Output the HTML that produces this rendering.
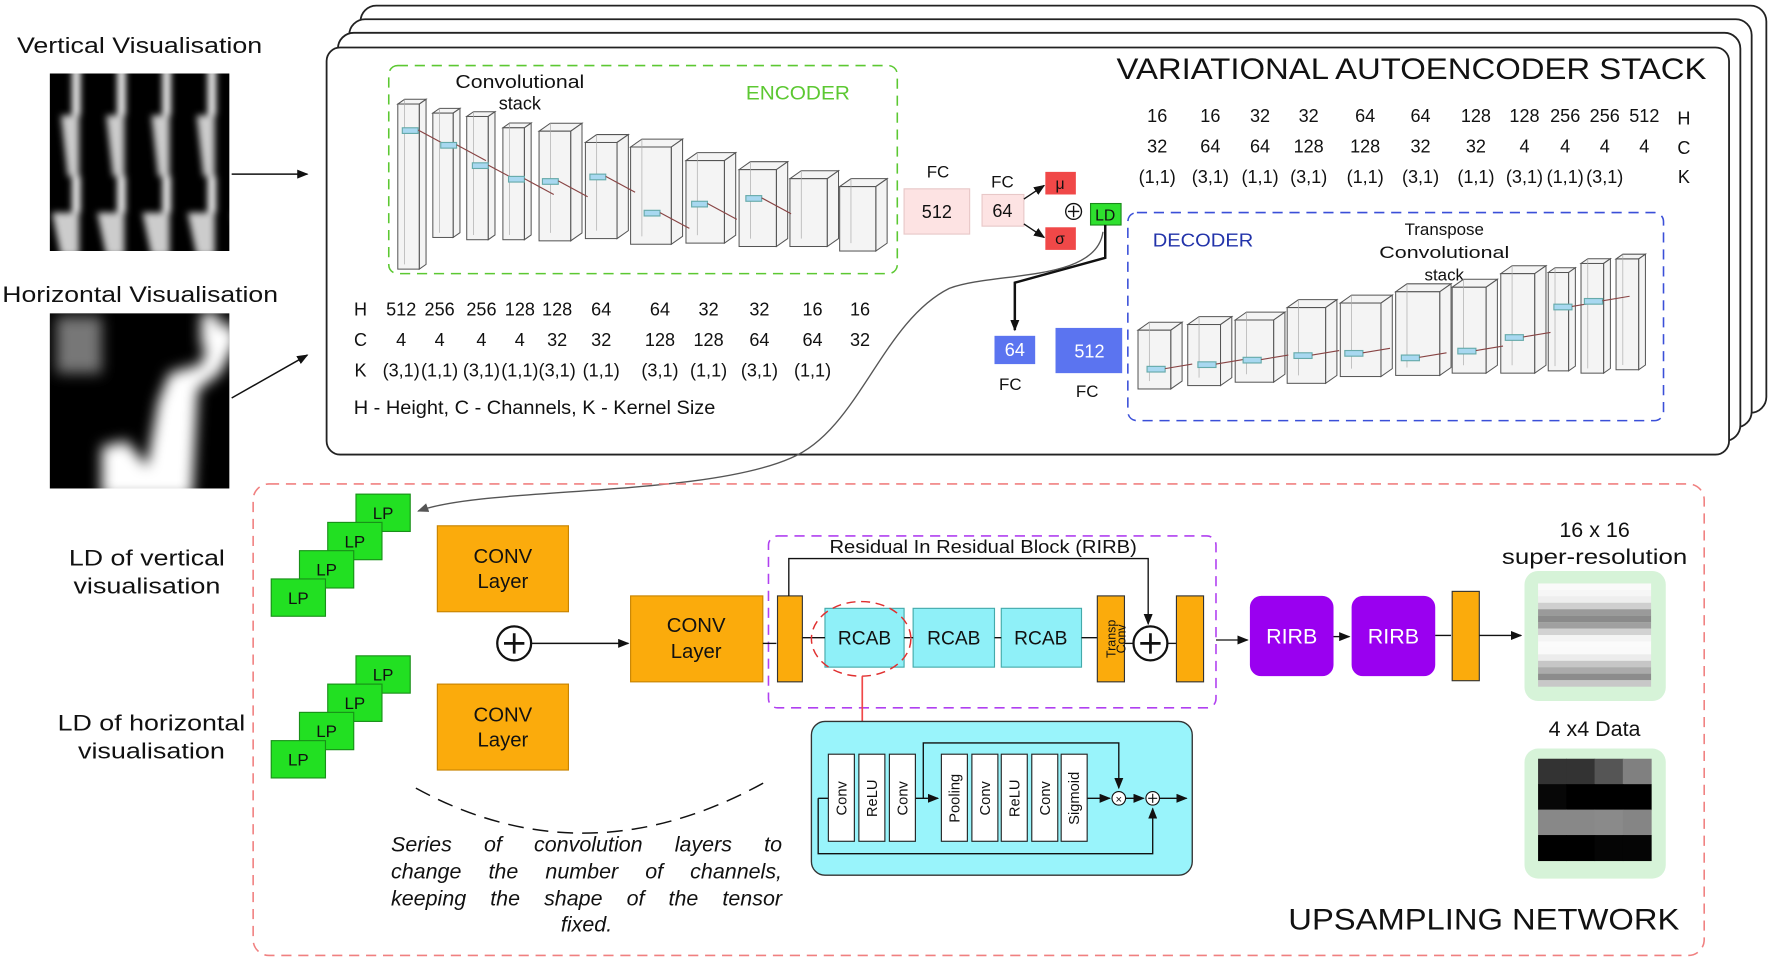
<!DOCTYPE html>
<html><head><meta charset="utf-8"><style>
html,body{margin:0;padding:0;background:#fff;width:1772px;height:960px;overflow:hidden}
svg{display:block}
text{font-family:"Liberation Sans",sans-serif;fill:#111}
</style></head><body>
<svg id="s" width="1772" height="960" viewBox="0 0 1568 849" preserveAspectRatio="none" xmlns="http://www.w3.org/2000/svg">
<defs>
<marker id="ar" markerWidth="10" markerHeight="8" refX="9" refY="4" orient="auto" markerUnits="userSpaceOnUse"><path d="M0,0 L10,4 L0,8 z" fill="#111"/></marker>
<marker id="arg" markerWidth="10" markerHeight="8" refX="9" refY="4" orient="auto" markerUnits="userSpaceOnUse"><path d="M0,0 L10,4 L0,8 z" fill="#555"/></marker>
<filter id="bl"><feGaussianBlur stdDeviation="3"/></filter>
<filter id="bl2"><feGaussianBlur stdDeviation="6"/></filter>
<clipPath id="c1"><rect x="44" y="65" width="159" height="157"/></clipPath>
<clipPath id="c2"><rect x="44" y="277" width="159" height="155"/></clipPath>
</defs>

<rect x="319" y="5" width="1244" height="360" rx="14" fill="#fff" stroke="#222" stroke-width="1.6"/>
<rect x="309" y="17" width="1241" height="361" rx="14" fill="#fff" stroke="#222" stroke-width="1.6"/>
<rect x="299" y="29" width="1241" height="361" rx="14" fill="#fff" stroke="#222" stroke-width="1.6"/>
<rect x="289" y="42" width="1241" height="360" rx="12" fill="#fff" stroke="#222" stroke-width="1.6"/>
<text x="988" y="70" font-size="26" textLength="522" lengthAdjust="spacingAndGlyphs">VARIATIONAL AUTOENCODER STACK</text>

<text x="15" y="47" font-size="20" textLength="217" lengthAdjust="spacingAndGlyphs">Vertical Visualisation</text>
<g clip-path="url(#c1)">
<rect x="44" y="65" width="159" height="157" fill="#000"/>
<g fill="#fff" filter="url(#bl)" id="vv"></g>
</g>
<text x="2" y="267" font-size="20" textLength="244" lengthAdjust="spacingAndGlyphs">Horizontal Visualisation</text>
<g clip-path="url(#c2)">
<rect x="44" y="277" width="159" height="155" fill="#000"/>
<g filter="url(#bl2)">
<rect x="50" y="280" width="40" height="50" fill="#777"/>
<polygon fill="#fff" points="90,440 90,395 112,390 130,412 140,355 150,330 178,322 188,290 203,285 210,300 195,330 175,345 170,440"/>
<rect x="178" y="277" width="15" height="30" fill="#fff"/>
</g>
</g>
<line x1="205" y1="154" x2="272" y2="154" stroke="#111" stroke-width="1.3" marker-end="url(#ar)"/>
<line x1="205" y1="352" x2="272" y2="314" stroke="#111" stroke-width="1.3" marker-end="url(#ar)"/>

<rect x="344" y="58" width="450" height="184" rx="8" fill="none" stroke="#5cc832" stroke-width="1.4" stroke-dasharray="9,6"/>
<text x="460" y="78" font-size="16" text-anchor="middle" textLength="114" lengthAdjust="spacingAndGlyphs">Convolutional</text>
<text x="460" y="97" font-size="16" text-anchor="middle">stack</text>
<text x="660" y="88" font-size="17" style="fill:#5cc832" textLength="92" lengthAdjust="spacingAndGlyphs">ENCODER</text>
<g id="enc"></g>

<g font-size="16" text-anchor="middle" id="enctab"></g>
<text x="313" y="366" font-size="17" textLength="320" lengthAdjust="spacingAndGlyphs">H - Height,  C - Channels, K - Kernel Size</text>

<text x="830" y="157" font-size="15" text-anchor="middle">FC</text>
<rect x="800" y="167" width="58" height="40" fill="#fde3e3" stroke="#e8c8c8"/>
<text x="829" y="193" font-size="16" text-anchor="middle">512</text>
<text x="887" y="166" font-size="15" text-anchor="middle">FC</text>
<rect x="869" y="172" width="37" height="28" fill="#fde3e3" stroke="#e8c8c8"/>
<text x="887" y="192" font-size="16" text-anchor="middle">64</text>
<line x1="906" y1="176" x2="924" y2="164" stroke="#111" stroke-width="1.2" marker-end="url(#ar)"/>
<line x1="906" y1="198" x2="924" y2="210" stroke="#111" stroke-width="1.2" marker-end="url(#ar)"/>
<rect x="925" y="152" width="27" height="20" fill="#f04848"/>
<text x="938" y="167" font-size="14" text-anchor="middle">μ</text>
<rect x="925" y="201" width="27" height="20" fill="#f04848"/>
<text x="938" y="216" font-size="14" text-anchor="middle">σ</text>
<circle cx="950" cy="187" r="7" fill="none" stroke="#111" stroke-width="1.2"/>
<path d="M945,187h10M950,182v10" stroke="#111" stroke-width="1.2"/>
<rect x="965" y="180" width="27" height="19" fill="#2ee02e" stroke="#1a8a1a"/>
<text x="978" y="195" font-size="14" text-anchor="middle">LD</text>
<path d="M978,199 V228 L898,250 V292" fill="none" stroke="#111" stroke-width="2.2" marker-end="url(#ar)"/>
<rect x="880" y="297" width="36" height="25" fill="#5b74f0"/>
<text x="898" y="315" font-size="16" text-anchor="middle" style="fill:#fff">64</text>
<text x="894" y="345" font-size="15" text-anchor="middle">FC</text>
<rect x="934" y="290" width="59" height="40" fill="#5b74f0"/>
<text x="964" y="316" font-size="16" text-anchor="middle" style="fill:#fff">512</text>
<text x="962" y="351" font-size="15" text-anchor="middle">FC</text>
<path d="M976,205 C 970,250 880,240 840,255 C 780,285 760,380 700,405 C 620,440 430,430 370,452" fill="none" stroke="#555" stroke-width="1.2" marker-end="url(#arg)"/>

<g font-size="16" text-anchor="middle" id="dectab"></g>
<rect x="998" y="188" width="474" height="184" rx="8" fill="none" stroke="#3a4fd8" stroke-width="1.4" stroke-dasharray="9,6"/>
<text x="1020" y="218" font-size="16" style="fill:#2233aa" textLength="89" lengthAdjust="spacingAndGlyphs">DECODER</text>
<text x="1278" y="208" font-size="15" text-anchor="middle">Transpose</text>
<text x="1278" y="228" font-size="15" text-anchor="middle" textLength="115" lengthAdjust="spacingAndGlyphs">Convolutional</text>
<text x="1278" y="248" font-size="15" text-anchor="middle">stack</text>
<g id="dec"></g>

<rect x="224" y="428" width="1284" height="417" rx="14" fill="none" stroke="#f08080" stroke-width="1.4" stroke-dasharray="9,6"/>
<text x="1486" y="822" font-size="26" text-anchor="end" textLength="346" lengthAdjust="spacingAndGlyphs">UPSAMPLING NETWORK</text>
<g id="lp" font-size="15" text-anchor="middle"></g>
<text x="130" y="500" font-size="20" text-anchor="middle" textLength="138" lengthAdjust="spacingAndGlyphs">LD of vertical</text>
<text x="130" y="525" font-size="20" text-anchor="middle" textLength="130" lengthAdjust="spacingAndGlyphs">visualisation</text>
<text x="134" y="646" font-size="20" text-anchor="middle" textLength="166" lengthAdjust="spacingAndGlyphs">LD of horizontal</text>
<text x="134" y="671" font-size="20" text-anchor="middle" textLength="130" lengthAdjust="spacingAndGlyphs">visualisation</text>

<g font-size="18" text-anchor="middle">
<rect x="387" y="465" width="116" height="76" fill="#fbab0c" stroke="#c88400"/>
<text x="445" y="498">CONV</text><text x="445" y="520">Layer</text>
<rect x="387" y="605" width="116" height="76" fill="#fbab0c" stroke="#c88400"/>
<text x="445" y="638">CONV</text><text x="445" y="660">Layer</text>
<rect x="558" y="527" width="117" height="76" fill="#fbab0c" stroke="#c88400"/>
<text x="616" y="559">CONV</text><text x="616" y="582">Layer</text>
</g>
<circle cx="455" cy="569" r="15" fill="#fff" stroke="#111" stroke-width="2"/>
<path d="M446,569h18M455,560v18" stroke="#111" stroke-width="2.4"/>
<line x1="470" y1="569" x2="556" y2="569" stroke="#111" stroke-width="1.3" marker-end="url(#ar)"/>
<path d="M368,697 Q520,780 680,690" fill="none" stroke="#111" stroke-width="1.3" stroke-dasharray="14,8"/>
<g font-size="19" font-style="italic" id="ital"></g>

<rect x="680" y="474" width="396" height="152" rx="8" fill="none" stroke="#b040f0" stroke-width="1.4" stroke-dasharray="9,6"/>
<text x="870" y="489" font-size="16" text-anchor="middle" textLength="272" lengthAdjust="spacingAndGlyphs">Residual In Residual Block (RIRB)</text>
<line x1="675" y1="569" x2="687" y2="569" stroke="#111" stroke-width="1.2"/>
<rect x="688" y="527" width="22" height="76" fill="#fbab0c" stroke="#333"/>
<path d="M698,527 V494 H1016 V552" fill="none" stroke="#111" stroke-width="1.2" marker-end="url(#ar)"/>
<g font-size="17" text-anchor="middle">
<rect x="730" y="538" width="70" height="52" fill="#8ff0f8" stroke="#4aa"/><text x="765" y="570">RCAB</text>
<rect x="808" y="538" width="72" height="52" fill="#8ff0f8" stroke="#4aa"/><text x="844" y="570">RCAB</text>
<rect x="886" y="538" width="71" height="52" fill="#8ff0f8" stroke="#4aa"/><text x="921" y="570">RCAB</text>
</g>
<path d="M710,564H730M800,564H808M880,564H886M957,564H971" stroke="#111" stroke-width="1.2"/>
<rect x="971" y="527" width="24" height="76" fill="#fbab0c" stroke="#333"/>
<text transform="translate(987,565) rotate(-90)" font-size="11" text-anchor="middle">Transp</text>
<text transform="translate(996,565) rotate(-90)" font-size="11" text-anchor="middle">Conv</text>
<circle cx="1018" cy="569" r="15" fill="#fff" stroke="#111" stroke-width="2"/>
<path d="M1009,569h18M1018,560v18" stroke="#111" stroke-width="2.4"/>
<line x1="995" y1="569" x2="1003" y2="569" stroke="#111" stroke-width="1.2"/>
<line x1="1033" y1="569" x2="1041" y2="569" stroke="#111" stroke-width="1.2"/>
<rect x="1041" y="527" width="24" height="76" fill="#fbab0c" stroke="#333"/>
<ellipse cx="762" cy="565" rx="44" ry="33" fill="none" stroke="#e03030" stroke-width="1.3" stroke-dasharray="8,5"/>
<line x1="763" y1="598" x2="763" y2="638" stroke="#f04848" stroke-width="1.5"/>

<line x1="1076" y1="566" x2="1104" y2="566" stroke="#111" stroke-width="1.2" marker-end="url(#ar)"/>
<rect x="1106" y="527" width="74" height="71" rx="10" fill="#9a00f0"/>
<text x="1143" y="569" font-size="19" text-anchor="middle" style="fill:#fff">RIRB</text>
<line x1="1180" y1="563" x2="1194" y2="563" stroke="#111" stroke-width="1.2" marker-end="url(#ar)"/>
<rect x="1196" y="527" width="74" height="71" rx="10" fill="#9a00f0"/>
<text x="1233" y="569" font-size="19" text-anchor="middle" style="fill:#fff">RIRB</text>
<line x1="1270" y1="562" x2="1284" y2="562" stroke="#111" stroke-width="1.2"/>
<rect x="1285" y="523" width="24" height="79" fill="#fbab0c" stroke="#333"/>
<line x1="1309" y1="562" x2="1346" y2="562" stroke="#111" stroke-width="1.2" marker-end="url(#ar)"/>

<text x="1411" y="475" font-size="19" text-anchor="middle">16 x 16</text>
<text x="1411" y="499" font-size="19" text-anchor="middle" textLength="164" lengthAdjust="spacingAndGlyphs">super-resolution</text>
<rect x="1349" y="505" width="125" height="115" rx="12" fill="#d6f3d8"/>
<g id="sr"></g>
<text x="1411" y="651" font-size="19" text-anchor="middle">4 x4 Data</text>
<rect x="1349" y="662" width="125" height="115" rx="12" fill="#d6f3d8"/>
<g id="d4"></g>

<rect x="718" y="638" width="337" height="136" rx="12" fill="#99f4fb" stroke="#333" stroke-width="1.2"/>
<path d="M724,706 V755 H1020 V715" fill="none" stroke="#111" stroke-width="1.2" marker-end="url(#ar)"/>
<path d="M817,706 V657 H990 V697" fill="none" stroke="#111" stroke-width="1.2" marker-end="url(#ar)"/>
<line x1="724" y1="706" x2="733" y2="706" stroke="#111" stroke-width="1.2"/>
<line x1="810" y1="706" x2="830" y2="706" stroke="#111" stroke-width="1.2" marker-end="url(#ar)"/>
<line x1="962" y1="706" x2="982" y2="706" stroke="#111" stroke-width="1.2" marker-end="url(#ar)"/>
<line x1="996" y1="706" x2="1012" y2="706" stroke="#111" stroke-width="1.2" marker-end="url(#ar)"/>
<line x1="1026" y1="706" x2="1050" y2="706" stroke="#111" stroke-width="1.2" marker-end="url(#ar)"/>
<circle cx="990" cy="706" r="6" fill="#fff" stroke="#111"/>
<text x="990" y="710" font-size="10" text-anchor="middle">×</text>
<circle cx="1020" cy="706" r="6" fill="#fff" stroke="#111"/>
<path d="M1016,706h8M1020,702v8" stroke="#111"/>
<g id="rc" font-size="13" text-anchor="middle"></g>
</svg>
<script>
var NS="http://www.w3.org/2000/svg";
function el(p,t,a,txt){var e=document.createElementNS(NS,t);for(var k in a)e.setAttribute(k,a[k]);if(txt!=null)e.textContent=txt;p.appendChild(e);return e;}
function g(id){return document.getElementById(id);}
var vv=g("vv");
for(var k=0;k<5;k++){var x0=44+k*40-2;
el(vv,"rect",{x:x0+22,y:60,width:7,height:42});
el(vv,"polygon",{points:(x0+12)+",102 "+(x0+28)+",102 "+(x0+28)+",156 "+(x0+18)+",156",opacity:0.8});
el(vv,"rect",{x:x0+22,y:156,width:7,height:32});
el(vv,"polygon",{points:(x0+4)+",188 "+(x0+28)+",188 "+(x0+28)+",226 "+(x0+12)+",226",opacity:0.8});}
function cub(p,x1,x2,y1,y2,d){var dx=d||8,dy=-(d||8)*0.7;
var s={fill:"#ececec","fill-opacity":0.6,stroke:"#555","stroke-width":0.9};
el(p,"polygon",Object.assign({points:x1+","+y1+" "+(x1+dx)+","+(y1+dy)+" "+(x2+dx)+","+(y1+dy)+" "+x2+","+y1},s));
el(p,"polygon",Object.assign({points:x2+","+y1+" "+(x2+dx)+","+(y1+dy)+" "+(x2+dx)+","+(y2+dy)+" "+x2+","+y2},s));
el(p,"rect",Object.assign({x:x1,y:y1,width:x2-x1,height:y2-y1},s));
el(p,"line",{x1:x1+dx,y1:y1+dy,x2:x1+dx,y2:y2+dy,stroke:"#aaa","stroke-width":0.6});}
var enc=g("enc");
[[352,371,92,238],[383,401,100,210],[413,432,103,212],[445,464,113,212],[477,505,116,213],[518,546,126,211],[558,594,130,216],[607,641,142,215],[654,687,150,218],[699,732,158,218],[743,775,165,222]].forEach(function(c,i){cub(enc,c[0],c[1],c[2],c[3],i<4?6:10);});
[[356,115],[390,128],[418,146],[450,158],[480,160],[522,156],[570,188],[612,180],[660,175]].forEach(function(a){el(enc,"rect",{x:a[0],y:a[1]-2,width:14,height:5,fill:"#a8d8f0",stroke:"#6aa"});el(enc,"line",{x1:a[0]+14,y1:a[1],x2:a[0]+40,y2:a[1]+14,stroke:"#844","stroke-width":1});});
var dec=g("dec");
[[1007,1036,292,344],[1051,1080,287,341],[1093,1127,283,338],[1139,1173,272,339],[1186,1222,268,333],[1235,1274,258,332],[1285,1315,254,330],[1328,1358,242,330],[1370,1388,241,328],[1399,1419,233,330],[1430,1450,229,327]].forEach(function(c){cub(dec,c[0],c[1],c[2],c[3],c[1]-c[0]<25?6:10);});
[[1015,326],[1060,322],[1100,318],[1145,314],[1190,312],[1240,316],[1290,310],[1332,298],[1375,271],[1402,266]].forEach(function(a){el(dec,"rect",{x:a[0],y:a[1]-2,width:16,height:5,fill:"#a8d8f0",stroke:"#6aa"});el(dec,"line",{x1:a[0]+16,y1:a[1],x2:a[0]+40,y2:a[1]-4,stroke:"#844","stroke-width":1});});
var et=g("enctab");
el(et,"text",{x:319,y:279},"H");el(et,"text",{x:319,y:306},"C");el(et,"text",{x:319,y:333},"K");
var ex=[355,389,426,460,493,532,584,627,672,719,761];
var eH=["512","256","256","128","128","64","64","32","32","16","16"],eC=["4","4","4","4","32","32","128","128","64","64","32"],eK=["(3,1)","(1,1)","(3,1)","(1,1)","(3,1)","(1,1)","(3,1)","(1,1)","(3,1)","(1,1)",""];
ex.forEach(function(x,i){el(et,"text",{x:x,y:279},eH[i]);el(et,"text",{x:x,y:306},eC[i]);el(et,"text",{x:x,y:333},eK[i]);});
var dt=g("dectab");
var dx=[1024,1071,1115,1158,1208,1257,1306,1349,1385,1420,1455];
var dH=["16","16","32","32","64","64","128","128","256","256","512"],dC=["32","64","64","128","128","32","32","4","4","4","4"],dK=["(1,1)","(3,1)","(1,1)","(3,1)","(1,1)","(3,1)","(1,1)","(3,1)","(1,1)","(3,1)",""];
dx.forEach(function(x,i){el(dt,"text",{x:x,y:108},dH[i]);el(dt,"text",{x:x,y:135},dC[i]);el(dt,"text",{x:x,y:162},dK[i]);});
el(dt,"text",{x:1490,y:110},"H");el(dt,"text",{x:1490,y:136},"C");el(dt,"text",{x:1490,y:162},"K");
var lp=g("lp");
[[240,512],[240,655]].forEach(function(b){for(var i=3;i>=0;i--){var x=b[0]+i*25,y=b[1]-i*25;el(lp,"rect",{x:x,y:y,width:48,height:33,fill:"#22e022",stroke:"#189018"});el(lp,"text",{x:x+24,y:y+22},"LP");}});
var sr=g("sr"),sh=["#fafafa","#f6f6f6","#eeeeee","#cfcfcf","#9a9a9a","#8a8a8a","#a0a0a0","#d2d2d2","#f4f4f4","#fbfbfb","#fafafa","#ececec","#c6c6c6","#ababab","#8c8c8c","#c8c8c8"];
sh.forEach(function(c,i){el(sr,"rect",{x:1361,y:516+i*5.7,width:100,height:5.8,fill:c});});
var d4=g("d4"),r=[["#333","#333","#555","#808080"],["#070707","#000","#000","#000"],["#888","#888","#8a8a8a","#858585"],["#000","#000","#050505","#050505"]];
r.forEach(function(row,i){row.forEach(function(c,j){el(d4,"rect",{x:1361+j*25,y:671+i*22.5,width:25.5,height:23,fill:c});});});
var rc=g("rc");
[[733,"Conv"],[760,"ReLU"],[787,"Conv"],[833,"Pooling"],[860,"Conv"],[886,"ReLU"],[913,"Conv"],[939,"Sigmoid"]].forEach(function(b){el(rc,"rect",{x:b[0],y:667,width:23,height:77,fill:"#fff",stroke:"#222"});el(rc,"text",{transform:"translate("+(b[0]+16)+",706) rotate(-90)"},b[1]);});
// justified italic text: position words individually
var it=g("ital");
[["Series of convolution layers to",753],["change the number of channels,",777],["keeping the shape of the tensor",801]].forEach(function(l){
var w=l[0].split(" "),ts=[],tot=0;
w.forEach(function(word){var t=el(it,"text",{x:0,y:l[1]},word);var L=t.getComputedTextLength();ts.push([t,L]);tot+=L;});
var gap=(346-tot)/(w.length-1),x=346;
ts.forEach(function(p){p[0].setAttribute("x",x);x+=p[1]+gap;});});
el(it,"text",{x:519,y:824,"text-anchor":"middle"},"fixed.");
</script>
</body></html>
